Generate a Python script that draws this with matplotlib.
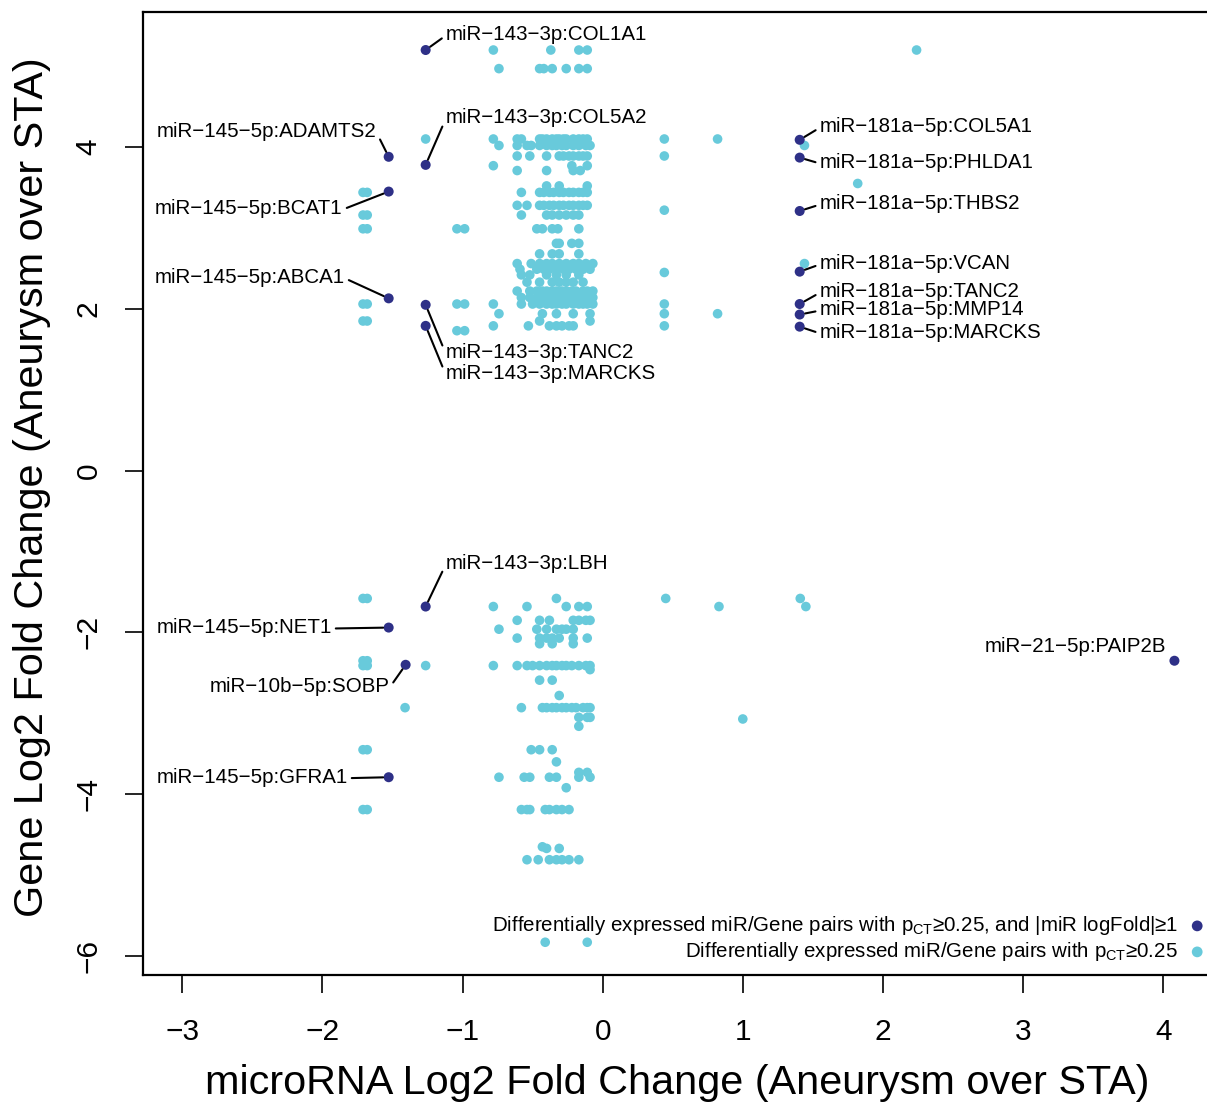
import numpy as np
import matplotlib.pyplot as plt

plt.rcParams['font.family'] = ['Liberation Sans', 'DejaVu Sans']

# highlighted pairs: |miR logFold| >= 1
mir_fc = [-1.263, -1.527, -1.263, -1.527, -1.527, -1.263, -1.263, -1.263, -1.527,
          -1.406, -1.527, 1.406, 1.406, 1.406, 1.406, 1.406, 1.406, 1.406, 4.08]
gene_fc = [5.20, 3.88, 3.78, 3.45, 2.13, 2.05, 1.79, -1.68, -1.94,
           -2.40, -3.79, 4.09, 3.87, 3.21, 2.46, 2.06, 1.93, 1.78, -2.35]
pair_names = ['miR\u2212143\u22123p:COL1A1', 'miR\u2212145\u22125p:ADAMTS2', 'miR\u2212143\u22123p:COL5A2',
              'miR\u2212145\u22125p:BCAT1', 'miR\u2212145\u22125p:ABCA1', 'miR\u2212143\u22123p:TANC2',
              'miR\u2212143\u22123p:MARCKS', 'miR\u2212143\u22123p:LBH', 'miR\u2212145\u22125p:NET1',
              'miR\u221210b\u22125p:SOBP', 'miR\u2212145\u22125p:GFRA1', 'miR\u2212181a\u22125p:COL5A1',
              'miR\u2212181a\u22125p:PHLDA1', 'miR\u2212181a\u22125p:THBS2', 'miR\u2212181a\u22125p:VCAN',
              'miR\u2212181a\u22125p:TANC2', 'miR\u2212181a\u22125p:MMP14', 'miR\u2212181a\u22125p:MARCKS',
              'miR\u221221\u22125p:PAIP2B']
# label anchor positions (data units) and side
label_x = [-1.12, -1.613, -1.12, -1.855, -1.84, -1.12, -1.12, -1.12, -1.934,
           -1.52, -1.82, 1.548, 1.548, 1.548, 1.548, 1.548, 1.548, 1.548, 4.02]
label_y = [5.39, 4.19, 4.36, 3.24, 2.39, 1.46, 1.20, -1.15, -1.94,
           -2.67, -3.79, 4.25, 3.81, 3.30, 2.56, 2.21, 1.99, 1.71, -2.18]
label_side = ['l', 'r', 'l', 'r', 'r', 'l', 'l', 'l', 'r',
              'r', 'r', 'l', 'l', 'l', 'l', 'l', 'l', 'l', 'r']
leader = [True] * 18 + [False]

# all other pairs with pCT >= 0.25, gene logFC -> list of miR logFC
rows = {
    5.20: [-0.78, -0.37, -0.17, -0.11, 2.24],
    4.97: [-0.74, -0.45, -0.42, -0.36, -0.26, -0.17, -0.11],
    4.10: [-1.263, -0.78, -0.61, -0.58, -0.45, -0.43, -0.40, -0.36, -0.33, -0.31, -0.28,
           -0.26, -0.21, -0.17, -0.14, -0.11, 0.44, 0.82],
    4.02: [-0.74, -0.61, -0.54, -0.51, -0.45, -0.40, -0.36, -0.33, -0.29, -0.26, -0.21,
           -0.17, -0.12, -0.09, 1.44],
    3.89: [-0.61, -0.52, -0.40, -0.31, -0.28, -0.24, -0.21, -0.17, -0.14, -0.11, 0.44],
    3.77: [-0.78, -0.22, -0.11],
    3.71: [-0.61, -0.40, -0.21, -0.16],
    3.55: [1.82],
    3.52: [-0.40, -0.31, -0.11],
    3.44: [-1.71, -1.68, -0.58, -0.45, -0.42, -0.38, -0.35, -0.31, -0.28, -0.24, -0.21,
           -0.17, -0.14, -0.11],
    3.28: [-0.61, -0.54, -0.45, -0.42, -0.38, -0.35, -0.31, -0.28, -0.24, -0.21, -0.17,
           -0.14, -0.11],
    3.22: [0.44],
    3.16: [-1.71, -1.68, -0.58, -0.40, -0.36, -0.31, -0.26, -0.21, -0.17],
    2.99: [-1.71, -1.68, -1.04, -0.985, -0.47, -0.43, -0.36, -0.32, -0.17],
    2.81: [-0.33, -0.31, -0.22, -0.17],
    2.68: [-0.45, -0.36, -0.31, -0.17],
    2.56: [-0.61, -0.51, -0.45, -0.40, -0.36, -0.31, -0.26, -0.21, -0.17, -0.12, -0.07, 1.44],
    2.49: [-0.59, -0.47, -0.42, -0.38, -0.33, -0.28, -0.24, -0.19, -0.14, -0.09],
    2.45: [0.44],
    2.42: [-0.58, -0.52, -0.40, -0.33, -0.26, -0.17],
    2.33: [-0.54, -0.45, -0.36, -0.31, -0.26, -0.21, -0.14],
    2.22: [-0.61, -0.52, -0.47, -0.43, -0.40, -0.36, -0.33, -0.29, -0.26, -0.22, -0.19,
           -0.14, -0.11, -0.07],
    2.14: [-0.58, -0.52, -0.47, -0.43, -0.40, -0.36, -0.33, -0.29, -0.26, -0.22, -0.19,
           -0.16, -0.12, -0.09, -0.07],
    2.06: [-1.71, -1.68, -1.04, -0.985, -0.78, -0.58, -0.50, -0.45, -0.40, -0.36, -0.33,
           -0.29, -0.26, -0.21, -0.17, -0.14, -0.11, -0.07, 0.44],
    1.94: [-0.74, -0.43, -0.33, -0.21, -0.09, 0.44, 0.82],
    1.85: [-1.71, -1.68, -0.45, -0.09],
    1.79: [-0.78, -0.53, -0.38, -0.33, -0.29, -0.24, -0.21, 0.44],
    1.73: [-1.04, -0.985],
    -1.58: [-1.71, -1.68, -0.33, 0.45, 1.41],
    -1.68: [-0.78, -0.54, -0.26, -0.17, -0.11, 0.83, 1.45],
    -1.85: [-0.61, -0.45, -0.38, -0.21, -0.17, -0.12, -0.09],
    -1.96: [-0.74, -0.47, -0.40, -0.33, -0.29, -0.26, -0.21],
    -2.07: [-0.61, -0.45, -0.40, -0.36, -0.31, -0.21, -0.11],
    -2.14: [-0.45, -0.36, -0.21],
    -2.35: [-1.71, -1.68],
    -2.41: [-1.71, -1.68, -1.263, -0.78, -0.61, -0.54, -0.50, -0.45, -0.40, -0.36, -0.33,
            -0.29, -0.26, -0.22, -0.17, -0.12, -0.09],
    -2.46: [-0.09],
    -2.59: [-0.45, -0.36],
    -2.78: [-0.31],
    -2.93: [-1.41, -0.58, -0.43, -0.40, -0.36, -0.33, -0.29, -0.26, -0.22, -0.19, -0.14,
            -0.11, -0.09],
    -3.05: [-0.17, -0.11, -0.09],
    -3.07: [1.0],
    -3.16: [-0.17],
    -3.45: [-1.71, -1.68, -0.51, -0.45, -0.36],
    -3.60: [-0.33],
    -3.73: [-0.17, -0.11],
    -3.79: [-0.74, -0.56, -0.52, -0.38, -0.33, -0.17, -0.09],
    -3.92: [-0.26],
    -4.19: [-1.71, -1.68, -0.58, -0.54, -0.52, -0.41, -0.38, -0.33, -0.29, -0.24],
    -4.65: [-0.43],
    -4.67: [-0.40, -0.31],
    -4.81: [-0.54, -0.46, -0.38, -0.33, -0.29, -0.24, -0.17],
    -5.83: [-0.41, -0.11],
}

dark = '#2E3087'
light = '#68CADB'

light_x = []
light_y = []
for gy, xs in rows.items():
    for mx in xs:
        light_x.append(mx)
        light_y.append(gy)

fig = plt.figure(figsize=(12.07, 11.04), dpi=100)
ax = fig.add_axes([143 / 1207, 129 / 1104, 1067 / 1207, 963 / 1104])

ax.scatter(light_x, light_y, s=48, color=light, edgecolors='none', zorder=2)
ax.scatter(mir_fc, gene_fc, s=52, color=dark, edgecolors='none', zorder=3)

for i in range(len(pair_names)):
    if label_side[i] == 'l':
        ha, rel = 'left', (0.0, 0.45)
    else:
        ha, rel = 'right', (1.0, 0.45)
    props = None
    if leader[i]:
        props = dict(arrowstyle='-', color='black', lw=1.5, relpos=rel, shrinkA=1, shrinkB=4)
    ax.annotate(pair_names[i], xy=(mir_fc[i], gene_fc[i]), xytext=(label_x[i], label_y[i]),
                ha=ha, va='center', fontsize=14.8, arrowprops=props)

ax.set_xlim(-3.28, -3.28 + 1067 / 140.14)
ax.set_ylim(-6.235, 5.67)
ax.set_xticks([-3, -2, -1, 0, 1, 2, 3, 4])
ax.set_yticks([-6, -4, -2, 0, 2, 4])
ax.tick_params(direction='out', length=13, width=1.2, labelsize=21.5, pad=18)
ax.tick_params(axis='y', pad=16)
for lbl in ax.get_yticklabels():
    lbl.set_rotation(90)
    lbl.set_va('center')
for sp in ax.spines.values():
    sp.set_linewidth(1.6)

# legend drawn in axes fraction
leg_text = ['Differentially expressed miR/Gene pairs with $\\mathregular{p_{CT}}$\u22650.25, and |miR logFold|\u22651',
            'Differentially expressed miR/Gene pairs with $\\mathregular{p_{CT}}$\u22650.25']
leg_col = [dark, light]
leg_y = [0.051, 0.024]
for t, c, yy in zip(leg_text, leg_col, leg_y):
    ax.text(0.970, yy, t, transform=ax.transAxes, ha='right', va='center', fontsize=14.8)
    ax.scatter([0.988], [yy], s=60, color=c, edgecolors='none', transform=ax.transAxes,
               clip_on=False)

fig.text(677 / 1207, 1 - 1083 / 1104, 'microRNA Log2 Fold Change (Aneurysm over STA)',
         ha='center', va='center', fontsize=29.8)
fig.text(32 / 1207, 1 - 487 / 1104, 'Gene Log2 Fold Change (Aneurysm over STA)',
         ha='center', va='center', rotation=90, fontsize=29.8)

fig.savefig('out.png', dpi=100)
